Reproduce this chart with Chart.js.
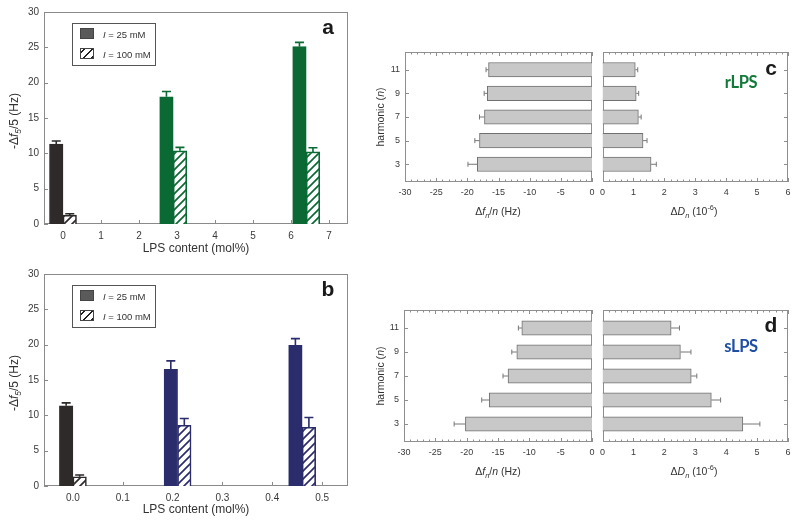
<!DOCTYPE html>
<html>
<head>
<meta charset="utf-8">
<script src="https://cdn.jsdelivr.net/npm/chart.js@4"></script>
<style>
    body { margin: 0; background: #fff; }
    #fig { position: relative; width: 800px; height: 524px; overflow: hidden;
           font-family: 'Liberation Sans', Arial, sans-serif; color: #333; }
    canvas { position: absolute; }
    .t { position: absolute; white-space: nowrap; transform: translate(-50%, -50%); line-height: 1; }
    .rot { transform: translate(-50%, -50%) rotate(-90deg); }
    .ttl { font-size: 12px; }
    .sm { font-size: 10.5px; }
    .tag { font-size: 21px; font-weight: bold; color: #1a1a1a; }
    .kind { font-family: Lato, 'Open Sans', sans-serif; font-size: 16.5px; font-weight: bold; letter-spacing: -0.3px; }
    sub, sup { font-size: 70%; line-height: 0; }
    .lg { position: absolute; border: 1px solid #555; background: #fff; }
    .sw { position: absolute; width: 14px; height: 11px; box-sizing: border-box; border: 1px solid #444; }
    .solid { background: #5a5a5a; }
    .hatched { background: repeating-linear-gradient(135deg, #fff 0 2px, #222 2px 3.5px, #fff 3.5px 5.6px); }
    .lt { position: absolute; font-size: 9.5px; transform: translateY(-50%); white-space: nowrap; }
</style>
</head>
<body>
<div id="fig">
    <canvas id="ca"></canvas>
    <canvas id="cb"></canvas>
    <canvas id="cc1"></canvas>
    <canvas id="cc2"></canvas>
    <canvas id="cd1"></canvas>
    <canvas id="cd2"></canvas>

    <!-- panel a -->
    <div class="t rot ttl" style="left:14px;top:121px">-Δ<i>f</i><sub><i>5</i></sub>/5 (Hz)</div>
    <div class="t ttl" style="left:196px;top:248px">LPS content (mol%)</div>
    <div class="t tag" style="left:328px;top:26px">a</div>
    <div class="lg" style="left:72px;top:23px;width:82px;height:41px"></div>
    <div class="sw solid" style="left:80px;top:28px"></div>
    <div class="sw hatched" style="left:80px;top:48px"></div>
    <div class="lt" style="left:103px;top:33.5px"><i>I</i> = 25 mM</div>
    <div class="lt" style="left:103px;top:53.5px"><i>I</i> = 100 mM</div>

    <!-- panel b -->
    <div class="t rot ttl" style="left:14px;top:383px">-Δ<i>f</i><sub><i>5</i></sub>/5 (Hz)</div>
    <div class="t ttl" style="left:196px;top:509px">LPS content (mol%)</div>
    <div class="t tag" style="left:328px;top:288px">b</div>
    <div class="lg" style="left:72px;top:285px;width:82px;height:41px"></div>
    <div class="sw solid" style="left:80px;top:290px"></div>
    <div class="sw hatched" style="left:80px;top:310px"></div>
    <div class="lt" style="left:103px;top:295.5px"><i>I</i> = 25 mM</div>
    <div class="lt" style="left:103px;top:315.5px"><i>I</i> = 100 mM</div>

    <!-- panel c -->
    <div class="t rot sm" style="left:380px;top:117px">harmonic (<i>n</i>)</div>
    <div class="t sm" style="left:498px;top:211px">Δ<i>f<sub>n</sub></i>/<i>n</i> (Hz)</div>
    <div class="t sm" style="left:694px;top:211px">Δ<i>D<sub>n</sub></i> (10<sup>-6</sup>)</div>
    <div class="t tag" style="left:771px;top:67px">c</div>
    <div class="t kind" style="left:741px;top:82px;color:#12793a">rLPS</div>

    <!-- panel d -->
    <div class="t rot sm" style="left:380px;top:376px">harmonic (<i>n</i>)</div>
    <div class="t sm" style="left:498px;top:471px">Δ<i>f<sub>n</sub></i>/<i>n</i> (Hz)</div>
    <div class="t sm" style="left:694px;top:471px">Δ<i>D<sub>n</sub></i> (10<sup>-6</sup>)</div>
    <div class="t tag" style="left:771px;top:324px">d</div>
    <div class="t kind" style="left:741px;top:346px;color:#1f4ea3">sLPS</div>
</div>

<script>
// ---- data ----
// panel a: rLPS content vs -df5/5
const lpsA = [0, 2.9, 6.4];
const a25 = [11.3, 18.0, 25.1];
const a25Err = [0.45, 0.75, 0.6];
const a100 = [1.25, 10.35, 10.2];
const a100Err = [0.2, 0.5, 0.6];
// panel b: sLPS content vs -df5/5
const lpsB = [0, 0.21, 0.46];
const b25 = [11.35, 16.5, 19.9];
const b25Err = [0.42, 1.2, 0.95];
const b100 = [1.3, 8.6, 8.3];
const b100Err = [0.25, 0.95, 1.4];
// panels c/d: per harmonic
const harmonics = [3, 5, 7, 9, 11];
const cDf = [-18.4, -18.05, -17.25, -16.8, -16.6];
const cDfErr = [1.5, 0.75, 0.8, 0.5, 0.4];
const cDD = [1.57, 1.31, 1.16, 1.09, 1.06];
const cDDErr = [0.17, 0.13, 0.09, 0.08, 0.08];
const dDf = [-20.2, -16.4, -13.4, -12.0, -11.2];
const dDfErr = [1.8, 1.2, 0.8, 0.8, 0.55];
const dDD = [4.54, 3.52, 2.87, 2.52, 2.22];
const dDDErr = [0.55, 0.3, 0.18, 0.34, 0.27];

// tick labels
const lpsTicksA = [0, 1, 2, 3, 4, 5, 6, 7];
const lpsTicksB = [0, 0.1, 0.2, 0.3, 0.4, 0.5];
const shiftTicks = [0, 5, 10, 15, 20, 25, 30];
const dfTicks = [-30, -25, -20, -15, -10, -5, 0];
const ddTicks = [0, 1, 2, 3, 4, 5, 6];

const DARK = '#2e2a2a', GREEN = '#0b6a34', NAVY = '#2b2c6c';
const GREY_FILL = '#c8c8c8', GREY_LINE = '#707070';

Chart.defaults.font.family = "'Liberation Sans', Arial, sans-serif";
Chart.defaults.color = '#333';

function hatch(color) {
    const s = 8, c = document.createElement('canvas');
    c.width = s; c.height = s;
    const g = c.getContext('2d');
    g.fillStyle = '#fff';
    g.fillRect(0, 0, s, s);
    g.strokeStyle = color;
    g.lineWidth = 1.7;
    g.beginPath();
    g.moveTo(0, s); g.lineTo(s, 0);
    g.moveTo(-s / 2, s / 2); g.lineTo(s / 2, -s / 2);
    g.moveTo(s / 2, s * 1.5); g.lineTo(s * 1.5, s / 2);
    g.stroke();
    return g.createPattern(c, 'repeat');
}

// box + inward tick marks, drawn under the bars
const framePlugin = {
    id: 'frame',
    beforeDatasetsDraw(chart, args, o) {
        const { ctx, chartArea: a } = chart;
        ctx.save();
        ctx.strokeStyle = o.color || '#8a8a8a';
        ctx.lineWidth = 1;
        ['x', 'y'].forEach(k => {
            const spec = o[k];
            if (!spec) return;
            const s = chart.scales[k];
            const mark = (v, len) => {
                const p = Math.round(s.getPixelForValue(v)) + 0.5;
                spec.sides.forEach(side => {
                    ctx.beginPath();
                    if (side === 'bottom') { ctx.moveTo(p, a.bottom); ctx.lineTo(p, a.bottom - len); }
                    if (side === 'top') { ctx.moveTo(p, a.top); ctx.lineTo(p, a.top + len); }
                    if (side === 'left') { ctx.moveTo(a.left, p); ctx.lineTo(a.left + len, p); }
                    if (side === 'right') { ctx.moveTo(a.right, p); ctx.lineTo(a.right - len, p); }
                    ctx.stroke();
                });
            };
            if (spec.minor) {
                const n = Math.round((s.max - s.min) / spec.minor);
                for (let i = 0; i <= n; i++) mark(s.min + i * spec.minor, 2.5);
            }
            s.ticks.forEach(t => mark(t.value, 4));
        });
        ctx.strokeRect(Math.round(a.left) + 0.5, Math.round(a.top) + 0.5,
            Math.round(a.right - a.left) - 1, Math.round(a.bottom - a.top) - 1);
        ctx.restore();
    }
};

// one-sided error bars, pointing away from zero
const errorPlugin = {
    id: 'errbars',
    afterDatasetsDraw(chart) {
        const ctx = chart.ctx;
        const horiz = chart.options.indexAxis === 'y';
        const vs = horiz ? chart.scales.x : chart.scales.y;
        chart.data.datasets.forEach((ds, i) => {
            if (!ds.err) return;
            const meta = chart.getDatasetMeta(i);
            meta.data.forEach((bar, j) => {
                const v = meta.controller.getParsed(j)[horiz ? 'x' : 'y'];
                const p0 = vs.getPixelForValue(v);
                const p1 = vs.getPixelForValue(v + Math.sign(v) * ds.err[j]);
                const col = ds.errColor || (Array.isArray(ds.borderColor) ? ds.borderColor[j] : ds.borderColor);
                ctx.save();
                ctx.strokeStyle = col;
                ctx.lineWidth = ds.errWidth || 1;
                ctx.beginPath();
                if (horiz) {
                    ctx.moveTo(p0, bar.y); ctx.lineTo(p1, bar.y);
                    ctx.moveTo(p1, bar.y - ds.cap); ctx.lineTo(p1, bar.y + ds.cap);
                } else {
                    ctx.moveTo(bar.x, p0); ctx.lineTo(bar.x, p1);
                    ctx.moveTo(bar.x - ds.cap, p1); ctx.lineTo(bar.x + ds.cap, p1);
                }
                ctx.stroke();
                ctx.restore();
            });
        });
    }
};

function axis(spec, extra) {
    return Object.assign({
        type: 'linear',
        min: spec.min,
        max: spec.max,
        offset: false,
        grid: { display: false, drawTicks: false },
        border: { display: false },
        afterBuildTicks: s => { s.ticks = (spec.ticks || []).map(v => ({ value: v })); },
        ticks: {
            autoSkip: false,
            maxRotation: 0,
            padding: spec.pad || 5,
            font: { size: spec.size || 10 },
            color: '#3a3a3a',
            callback: spec.fmt || (v => String(v))
        }
    }, extra);
}

function panel(id, box, plot, cfg) {
    const cv = document.getElementById(id);
    cv.width = box.w;
    cv.height = box.h;
    cv.style.left = box.x + 'px';
    cv.style.top = box.y + 'px';
    const yShown = cfg.yShown !== false;
    return new Chart(cv, {
        type: 'bar',
        data: { datasets: cfg.datasets },
        plugins: [framePlugin, errorPlugin],
        options: {
            responsive: false,
            animation: false,
            indexAxis: cfg.indexAxis || 'x',
            layout: { padding: {
                left: yShown ? 0 : plot.l - box.x,
                top: plot.t - box.y,
                right: box.x + box.w - plot.r,
                bottom: 0
            } },
            plugins: { legend: { display: false }, tooltip: { enabled: false }, frame: cfg.frame },
            scales: {
                x: axis(cfg.x, { afterFit: s => { s.height = box.y + box.h - plot.b; } }),
                y: yShown
                    ? axis(cfg.y, { afterFit: s => { s.width = plot.l - box.x; } })
                    : axis(cfg.y, { display: false })
            }
        }
    });
}

// ---- panels a / b : grouped vertical bars on a linear LPS axis ----
function lpsPanel(id, box, plot, xs, v25, e25, v100, e100, colour, xSpec) {
    const fills = [DARK, colour, colour];
    return panel(id, box, plot, {
        x: xSpec,
        y: { min: 0, max: 30, ticks: shiftTicks },
        frame: { color: '#8a8a8a', x: { sides: ['bottom'] }, y: { sides: ['left'] } },
        datasets: [
            {
                data: xs.map((x, i) => ({ x, y: v25[i] })),
                backgroundColor: fills, borderColor: fills, borderWidth: 1,
                barThickness: 13.5, err: e25, cap: 4.5, errWidth: 1.6
            },
            {
                data: xs.map((x, i) => ({ x, y: v100[i] })),
                backgroundColor: fills.map(hatch), borderColor: fills, borderWidth: 1.6,
                barThickness: 13.5, err: e100, cap: 4.5, errWidth: 1.6
            }
        ]
    });
}

lpsPanel('ca', { x: 0, y: 0, w: 400, h: 262 }, { l: 44, t: 12, r: 348, b: 224 },
    lpsA, a25, a25Err, a100, a100Err, GREEN,
    { min: -0.5, max: 7.5, ticks: lpsTicksA, pad: 6 });

lpsPanel('cb', { x: 0, y: 262, w: 400, h: 262 }, { l: 44, t: 274, r: 348, b: 486 },
    lpsB, b25, b25Err, b100, b100Err, NAVY,
    { min: -0.058, max: 0.552, ticks: lpsTicksB, pad: 6, fmt: v => v.toFixed(1) });

// ---- panels c / d : horizontal bars per harmonic ----
function harmPanel(id, box, plot, vals, errs, xSpec, left) {
    return panel(id, box, plot, {
        indexAxis: 'y',
        yShown: left,
        x: xSpec,
        y: { min: 1.5, max: 12.5, ticks: harmonics, size: 9, pad: 5 },
        frame: {
            color: '#8f8f8f',
            x: { sides: ['bottom', 'top'], minor: xSpec.minor },
            y: { sides: [left ? 'left' : 'right'] }
        },
        datasets: [{
            data: harmonics.map((n, i) => ({ x: vals[i], y: n })),
            backgroundColor: GREY_FILL, borderColor: GREY_LINE, borderWidth: 1,
            barThickness: 14.5, err: errs, cap: 2.5, errColor: '#777'
        }]
    });
}

const dfAxis = { min: -30, max: 0, ticks: dfTicks, minor: 1, size: 9, pad: 5 };
const ddAxis = { min: 0, max: 6, ticks: ddTicks, minor: 0.2, size: 9, pad: 5 };

harmPanel('cc1', { x: 380, y: 30, w: 222, h: 190 }, { l: 405, t: 52, r: 592, b: 182 }, cDf, cDfErr, dfAxis, true);
harmPanel('cc2', { x: 595, y: 30, w: 205, h: 190 }, { l: 599, t: 52, r: 788, b: 182 }, cDD, cDDErr, ddAxis, false);
harmPanel('cd1', { x: 380, y: 288, w: 222, h: 190 }, { l: 404, t: 310, r: 592, b: 442 }, dDf, dDfErr, dfAxis, true);
harmPanel('cd2', { x: 595, y: 288, w: 205, h: 190 }, { l: 599, t: 310, r: 788, b: 442 }, dDD, dDDErr, ddAxis, false);
</script>
</body>
</html>
